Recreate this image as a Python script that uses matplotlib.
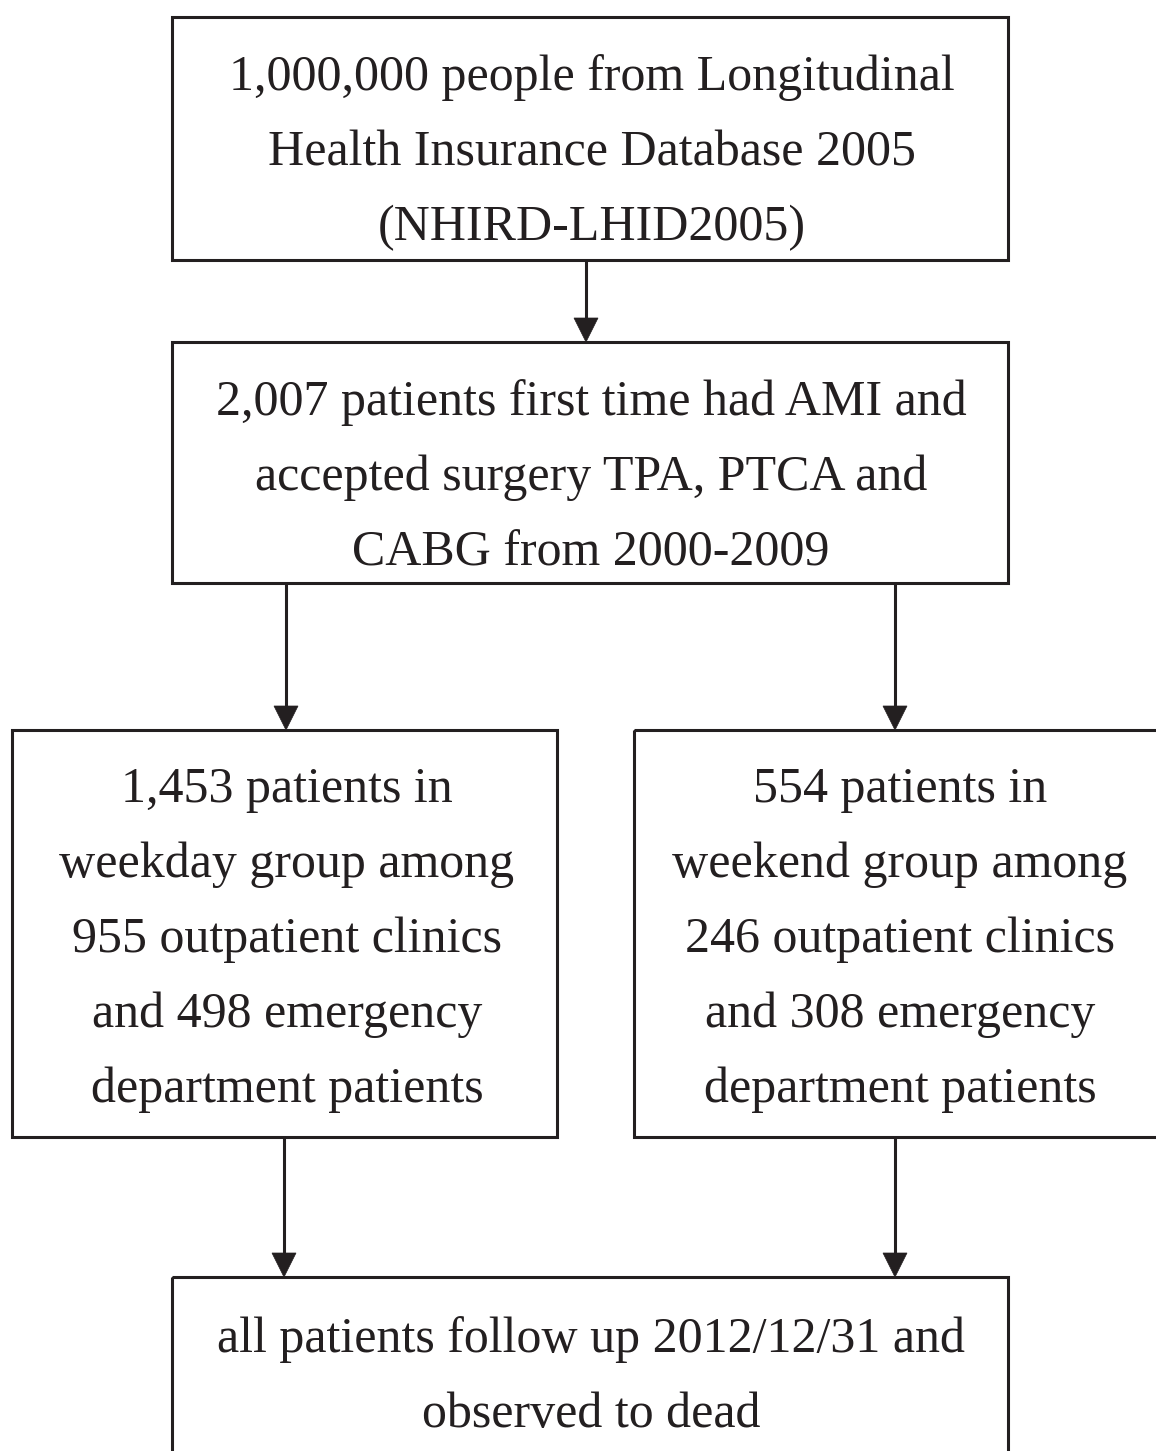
import matplotlib
matplotlib.use("Agg")
import matplotlib.pyplot as plt
from matplotlib.patches import Rectangle, Polygon

W, H = 1156, 1451
DPI = 100

box1_lines = ["1,000,000 people from Longitudinal",
              "Health Insurance Database 2005",
              "(NHIRD-LHID2005)"]
box2_lines = ["2,007 patients first time had AMI and",
              "accepted surgery TPA, PTCA and",
              "CABG from 2000-2009"]
box3_lines = ["1,453 patients in",
              "weekday group among",
              "955 outpatient clinics",
              "and 498 emergency",
              "department patients"]
box4_lines = ["554 patients in",
              "weekend group among",
              "246 outpatient clinics",
              "and 308 emergency",
              "department patients"]
box5_lines = ["all patients follow up 2012/12/31 and",
              "observed to dead"]

# (x0, y0, x1, y1, lines, first baseline)
boxes = [
    (172, 17, 1008, 260, box1_lines, 90),
    (172, 342, 1008, 583, box2_lines, 415),
    (12, 730, 557, 1137, box3_lines, 802),
    (634, 730, 1160, 1137, box4_lines, 802),
    (172, 1277, 1008, 1460, box5_lines, 1352),
]
text_cx = [592, 591, 287, 900, 591]
arrows = [(586, 260, 342), (286, 583, 730), (895, 583, 730),
          (284, 1137, 1277), (895, 1137, 1277)]

color = "#231f20"
lw = 2.2
fig = plt.figure(figsize=(W / DPI, H / DPI), dpi=DPI)
ax = fig.add_axes([0, 0, 1, 1])
ax.set_xlim(0, W)
ax.set_ylim(H, 0)
ax.axis("off")

for (x0, y0, x1, y1, lines, b0), cx in zip(boxes, text_cx):
    ax.add_patch(Rectangle((x0, y0), x1 - x0, y1 - y0, fill=False,
                           edgecolor=color, linewidth=lw))
    for i, t in enumerate(lines):
        ax.text(cx, b0 + 75 * i, t, ha="center", va="baseline",
                fontsize=36, family="Liberation Serif", color=color)

for x, ys, ye in arrows:
    hl, hw = 24, 12
    ax.plot([x, x], [ys, ye - hl + 2], color=color, linewidth=lw,
            solid_capstyle="butt")
    ax.add_patch(Polygon([(x - hw, ye - hl), (x + hw, ye - hl), (x, ye)],
                         closed=True, facecolor=color, edgecolor=color,
                         linewidth=0.5))

fig.savefig("out.png", dpi=DPI, facecolor="white")
